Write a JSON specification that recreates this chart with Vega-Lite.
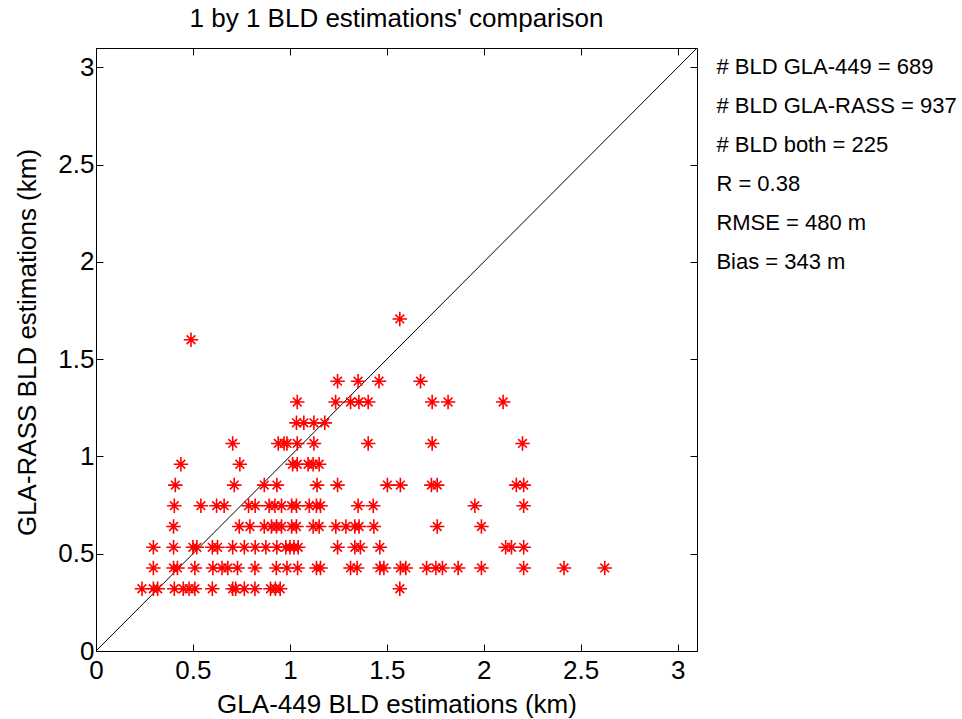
{
  "$schema": "https://vega.github.io/schema/vega-lite/v6.json",
  "width": 601,
  "height": 603,
  "autosize": {"type": "none"},
  "padding": {"left": 96, "top": 48, "right": 265, "bottom": 68},
  "background": "white",
  "title": {"text": "1 by 1 BLD estimations' comparison", "font": "Liberation Sans", "fontSize": 26, "fontWeight": "normal", "color": "black", "offset": 14},
  "config": {
    "view": {"stroke": "black", "strokeWidth": 1},
    "axis": {"grid": false, "labelFont": "Liberation Sans", "labelFontSize": 26, "labelColor": "black", "titleFont": "Liberation Sans", "titleFontSize": 26, "titleFontWeight": "normal", "titleColor": "black", "tickColor": "black", "domainColor": "black", "tickSize": -7, "tickWidth": 1, "domainWidth": 1, "labelFlush": false, "labelOverlap": false}
  },
  "datasets": {
    "points": [
      {"x":0.237,"y":0.32},{"x":0.296,"y":0.32},{"x":0.318,"y":0.32},{"x":0.404,"y":0.32},{"x":0.45,"y":0.32},{"x":0.48,"y":0.32},{"x":0.51,"y":0.32},{"x":0.60,"y":0.32},{"x":0.705,"y":0.32},{"x":0.72,"y":0.32},{"x":0.765,"y":0.32},{"x":0.82,"y":0.32},{"x":0.90,"y":0.32},{"x":0.925,"y":0.32},{"x":0.95,"y":0.32},{"x":1.567,"y":0.32},
      {"x":0.296,"y":0.427},{"x":0.40,"y":0.427},{"x":0.42,"y":0.427},{"x":0.51,"y":0.427},{"x":0.603,"y":0.427},{"x":0.65,"y":0.427},{"x":0.68,"y":0.427},{"x":0.73,"y":0.427},{"x":0.82,"y":0.427},{"x":0.93,"y":0.427},{"x":0.985,"y":0.427},{"x":1.04,"y":0.427},{"x":1.137,"y":0.427},{"x":1.158,"y":0.427},{"x":1.313,"y":0.427},{"x":1.347,"y":0.427},{"x":1.464,"y":0.427},{"x":1.485,"y":0.427},{"x":1.57,"y":0.427},{"x":1.598,"y":0.427},{"x":1.705,"y":0.427},{"x":1.753,"y":0.427},{"x":1.787,"y":0.427},{"x":1.868,"y":0.427},{"x":1.988,"y":0.427},{"x":2.206,"y":0.427},{"x":2.414,"y":0.427},{"x":2.624,"y":0.427},
      {"x":0.296,"y":0.533},{"x":0.40,"y":0.533},{"x":0.50,"y":0.533},{"x":0.52,"y":0.533},{"x":0.60,"y":0.533},{"x":0.627,"y":0.533},{"x":0.705,"y":0.533},{"x":0.765,"y":0.533},{"x":0.821,"y":0.533},{"x":0.876,"y":0.533},{"x":0.933,"y":0.533},{"x":0.979,"y":0.533},{"x":1.0,"y":0.533},{"x":1.021,"y":0.533},{"x":1.043,"y":0.533},{"x":1.246,"y":0.533},{"x":1.335,"y":0.533},{"x":1.364,"y":0.533},{"x":1.464,"y":0.533},{"x":2.113,"y":0.533},{"x":2.143,"y":0.533},{"x":2.206,"y":0.533},
      {"x":0.40,"y":0.64},{"x":0.739,"y":0.64},{"x":0.794,"y":0.64},{"x":0.868,"y":0.64},{"x":0.905,"y":0.64},{"x":0.931,"y":0.64},{"x":0.957,"y":0.64},{"x":1.009,"y":0.64},{"x":1.034,"y":0.64},{"x":1.12,"y":0.64},{"x":1.151,"y":0.64},{"x":1.237,"y":0.64},{"x":1.289,"y":0.64},{"x":1.335,"y":0.64},{"x":1.357,"y":0.64},{"x":1.433,"y":0.64},{"x":1.76,"y":0.64},{"x":1.988,"y":0.64},
      {"x":0.404,"y":0.747},{"x":0.541,"y":0.747},{"x":0.622,"y":0.747},{"x":0.661,"y":0.747},{"x":0.787,"y":0.747},{"x":0.821,"y":0.747},{"x":0.893,"y":0.747},{"x":0.923,"y":0.747},{"x":0.957,"y":0.747},{"x":1.009,"y":0.747},{"x":1.034,"y":0.747},{"x":1.1,"y":0.747},{"x":1.137,"y":0.747},{"x":1.158,"y":0.747},{"x":1.352,"y":0.747},{"x":1.43,"y":0.747},{"x":1.954,"y":0.747},{"x":2.206,"y":0.747},
      {"x":0.409,"y":0.853},{"x":0.713,"y":0.853},{"x":0.868,"y":0.853},{"x":0.933,"y":0.853},{"x":1.14,"y":0.853},{"x":1.246,"y":0.853},{"x":1.503,"y":0.853},{"x":1.57,"y":0.853},{"x":1.73,"y":0.853},{"x":1.76,"y":0.853},{"x":2.168,"y":0.853},{"x":2.206,"y":0.853},
      {"x":0.438,"y":0.96},{"x":0.742,"y":0.96},{"x":1.014,"y":0.96},{"x":1.038,"y":0.96},{"x":1.094,"y":0.96},{"x":1.12,"y":0.96},{"x":1.151,"y":0.96},
      {"x":0.705,"y":1.067},{"x":0.94,"y":1.067},{"x":0.97,"y":1.067},{"x":0.985,"y":1.067},{"x":1.038,"y":1.067},{"x":1.124,"y":1.067},{"x":1.404,"y":1.067},{"x":1.734,"y":1.067},{"x":2.2,"y":1.067},
      {"x":1.034,"y":1.173},{"x":1.072,"y":1.173},{"x":1.124,"y":1.173},{"x":1.18,"y":1.173},
      {"x":1.038,"y":1.28},{"x":1.236,"y":1.28},{"x":1.313,"y":1.28},{"x":1.356,"y":1.28},{"x":1.404,"y":1.28},{"x":1.734,"y":1.28},{"x":1.816,"y":1.28},{"x":2.1,"y":1.28},
      {"x":1.246,"y":1.387},{"x":1.352,"y":1.387},{"x":1.46,"y":1.387},{"x":1.674,"y":1.387},
      {"x":0.49,"y":1.6},
      {"x":1.567,"y":1.707}
    ],
    "diag": [{"x":0,"y":0},{"x":3.1,"y":3.1}],
    "stats": [
      {"label":"# BLD GLA-449 = 689","x":3.2,"y":3.0},
      {"label":"# BLD GLA-RASS = 937","x":3.2,"y":2.8},
      {"label":"# BLD both = 225","x":3.2,"y":2.6},
      {"label":"R = 0.38","x":3.2,"y":2.4},
      {"label":"RMSE = 480 m","x":3.2,"y":2.2},
      {"label":"Bias = 343 m","x":3.2,"y":2.0}
    ]
  },
  "layer": [
    {
      "data": {"name": "diag"},
      "mark": {"type": "line", "color": "black", "strokeWidth": 1},
      "encoding": {
        "x": {"field": "x", "type": "quantitative", "scale": {"domain": [0, 3.1], "nice": false, "zero": false}, "axis": {"orient": "top", "labels": false, "title": null, "domain": false, "values": [0, 0.5, 1, 1.5, 2, 2.5, 3]}},
        "y": {"field": "y", "type": "quantitative", "scale": {"domain": [0, 3.1], "nice": false, "zero": false}, "axis": {"orient": "right", "labels": false, "title": null, "domain": false, "values": [0, 0.5, 1, 1.5, 2, 2.5, 3]}}
      }
    },
    {
      "data": {"name": "points"},
      "mark": {"type": "point", "shape": "M-1,0L1,0M0,-1L0,1M-0.6,-0.6L0.6,0.6M-0.6,0.6L0.6,-0.6", "filled": false, "stroke": "red", "strokeWidth": 1.6, "size": 210, "opacity": 1},
      "encoding": {
        "x": {"field": "x", "type": "quantitative", "scale": {"domain": [0, 3.1], "nice": false, "zero": false}, "axis": {"orient": "bottom", "title": "GLA-449 BLD estimations (km)", "values": [0, 0.5, 1, 1.5, 2, 2.5, 3], "format": "~g", "labelPadding": 13, "labelBaseline": "top", "titleBaseline": "alphabetic", "titleY": 61}},
        "y": {"field": "y", "type": "quantitative", "scale": {"domain": [0, 3.1], "nice": false, "zero": false}, "axis": {"orient": "left", "title": "GLA-RASS BLD estimations (km)", "values": [0, 0.5, 1, 1.5, 2, 2.5, 3], "format": "~g", "labelPadding": 9, "titleBaseline": "middle", "titleX": -69, "titleY": 294}}
      }
    },
    {
      "data": {"name": "stats"},
      "mark": {"type": "text", "align": "left", "baseline": "middle", "font": "Liberation Sans", "fontSize": 22, "color": "black"},
      "encoding": {
        "x": {"field": "x", "type": "quantitative", "scale": {"domain": [0, 3.1], "nice": false, "zero": false}, "axis": null},
        "y": {"field": "y", "type": "quantitative", "scale": {"domain": [0, 3.1], "nice": false, "zero": false}, "axis": null},
        "text": {"field": "label"}
      }
    }
  ],
  "resolve": {"axis": {"x": "independent", "y": "independent"}}
}
